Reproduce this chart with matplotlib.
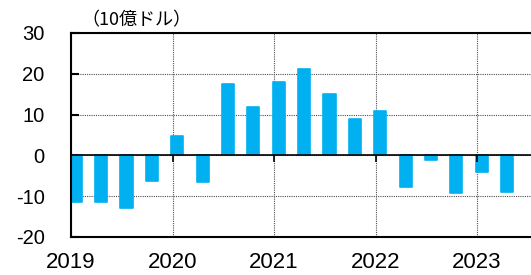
import matplotlib
matplotlib.use("Agg")
import matplotlib.pyplot as plt
import numpy as np

plt.rcParams['font.family'] = ['Liberation Sans', 'Noto Sans CJK JP', 'DejaVu Sans']

# 四半期データ 2019Q1 - 2023Q2 (10億ドル)
quarters = ['2019Q1', '2019Q2', '2019Q3', '2019Q4',
            '2020Q1', '2020Q2', '2020Q3', '2020Q4',
            '2021Q1', '2021Q2', '2021Q3', '2021Q4',
            '2022Q1', '2022Q2', '2022Q3', '2022Q4',
            '2023Q1', '2023Q2']
values = [-11.3, -11.3, -12.8, -6.2,
          4.7, -6.5, 17.6, 11.8,
          17.9, 21.1, 15.0, 8.8,
          11.0, -7.7, -1.2, -9.2,
          -4.0, -9.0]
years = [2019, 2020, 2021, 2022, 2023]
year_labels = ['2019', '2020', '2021', '2022', '2023']
y_ticks = [-20, -10, 0, 10, 20, 30]
unit_label = '（10億ドル）'

# 位置: 年 + 四半期 * 0.25 (棒は少し右寄せ)
x_pos = np.array([int(q[:4]) + (int(q[-1]) - 1) * 0.25 for q in quarters]) + 0.047

W, H = 531, 275
fig = plt.figure(figsize=(W / 100, H / 100), dpi=100)
ax_left, ax_right, ax_top, ax_bottom = 71, 536, 33, 237
ax = fig.add_axes([ax_left / W, (H - ax_bottom) / H, (ax_right - ax_left) / W, (ax_bottom - ax_top) / H])

ax.bar(x_pos, values, width=0.12, color='#00B0F0', edgecolor='#00B0F0',
       linewidth=1.2, joinstyle='round', zorder=2)

ax.set_xlim(2019, 2019 + (ax_right - ax_left) / 101.5)
ax.set_ylim(-20, 30)

# 0の線と年の目盛り
ax.axhline(0, color='black', linewidth=1.2, zorder=3)
ax.plot(years[1:], [0] * (len(years) - 1), linestyle='none', marker=3,
        markersize=5, markeredgewidth=1.2, color='black', zorder=4)

ax.set_yticks(y_ticks)
ax.set_yticklabels([str(v) for v in y_ticks], fontsize=14.5)
ax.set_xticks(years)
ax.set_xticklabels(year_labels, fontsize=16)
ax.tick_params(axis='y', direction='in', length=6, width=1.5, pad=19)
ax.tick_params(axis='x', length=0, pad=11)

ax.grid(True, linestyle=(0, (1, 1)), color='#505050', linewidth=0.8, zorder=1)
ax.set_axisbelow(True)

for side in ['left', 'top', 'bottom']:
    ax.spines[side].set_linewidth(1.5)
    ax.spines[side].set_color('black')
ax.spines['right'].set_visible(False)

fig.text(81 / W, 1 - 20.5 / H, unit_label, fontsize=13, ha='left', va='center',
         family=['Noto Sans CJK JP', 'DejaVu Sans'])

fig.savefig('out.png', dpi=100)
